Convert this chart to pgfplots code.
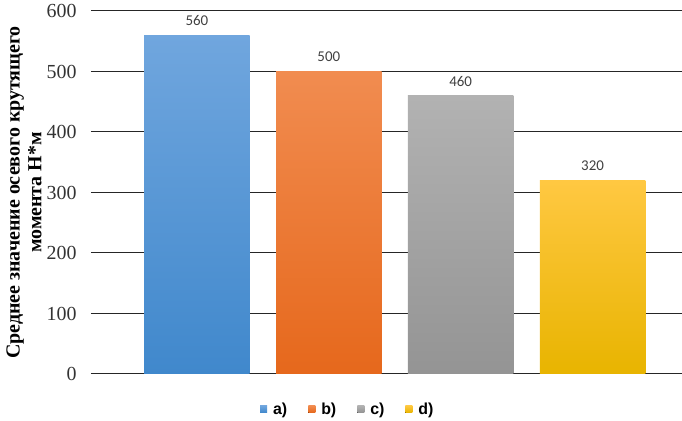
\documentclass[border=0pt]{standalone}
\usepackage{pgfplots}
\pgfplotsset{compat=1.18}
\usepackage{fontspec}
\setmainfont{Liberation Serif}
\newfontfamily\legfont{Liberation Sans}
\newfontfamily\valfont{Carlito}
\definecolor{bluetop}{RGB}{112,166,222}
\definecolor{bluebot}{RGB}{64,136,204}
\definecolor{orgtop}{RGB}{241,140,80}
\definecolor{orgbot}{RGB}{230,104,28}
\definecolor{grytop}{RGB}{178,178,178}
\definecolor{grybot}{RGB}{148,148,148}
\definecolor{ylwtop}{RGB}{255,200,66}
\definecolor{ylwbot}{RGB}{232,180,0}
\begin{document}
\begin{tikzpicture}
\begin{axis}[name=ax, scale only axis, width=591bp, height=363bp,
  xmin=-0.803, xmax=3.678, ymin=0, ymax=600,
  ytick={0,100,...,600}, xtick=\empty,
  ymajorgrids, grid style={black!85, line width=1bp},
  axis line style={draw=none}, major tick length=0pt,
  ybar, bar width=0.8, bar shift=0pt,
  /pgf/number format/assume math mode=true,
  yticklabel style={font=\fontsize{20}{22}\selectfont, color=black!80, xshift=-11bp},
  nodes near coords,
  nodes near coords style={font=\valfont\fontsize{15}{17}\selectfont, color=black!75, anchor=south, yshift=6bp},
  legend columns=4,
  legend style={draw=none, fill=none, at={(axis cs:1.144,-58)}, anchor=center,
    font=\legfont\bfseries\fontsize{16}{18}\selectfont,
    /tikz/every odd column/.append style={column sep=4bp},
    /tikz/every even column/.append style={column sep=19bp}},
  legend image code/.code={\fill[#1] (0bp,-3.5bp) rectangle (7bp,3.5bp);},
  clip=false,
]
\addplot[draw=none, top color=bluetop, bottom color=bluebot] coordinates {(0,560)};
\addplot[draw=none, top color=orgtop, bottom color=orgbot] coordinates {(1,500)};
\addplot[draw=none, top color=grytop, bottom color=grybot] coordinates {(2,460)};
\addplot[draw=none, top color=ylwtop, bottom color=ylwbot] coordinates {(3,320)};
\legend{a),b),c),d)}
\end{axis}
\node[rotate=90, align=center, font=\bfseries\fontsize{20}{22}\selectfont] at ([xshift=-67bp]ax.west) {Среднее значение осевого крутящего\\момента Н*м};
\pgfresetboundingbox
\path[use as bounding box] ([xshift=-91bp,yshift=-47bp]ax.south west) rectangle ([yshift=11bp]ax.north east);
\end{tikzpicture}
\end{document}
